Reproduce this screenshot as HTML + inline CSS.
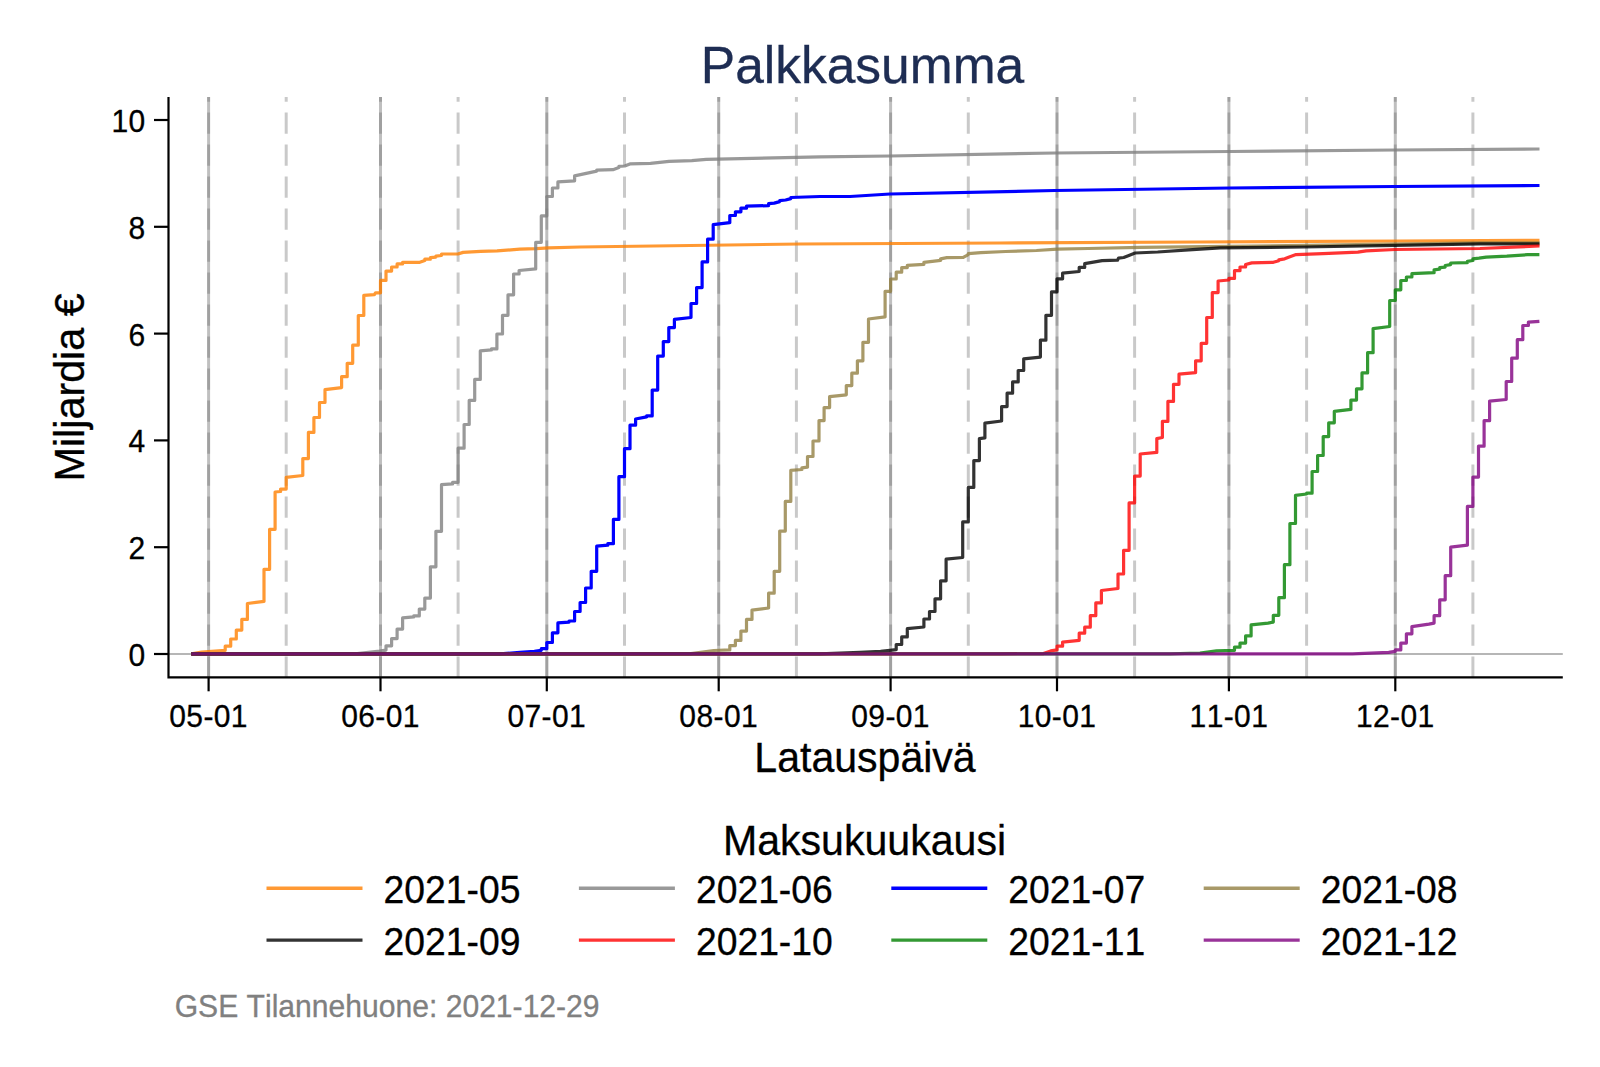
<!DOCTYPE html>
<html lang="fi"><head><meta charset="utf-8"><title>Palkkasumma</title>
<style>html,body{margin:0;padding:0;background:#fff}svg{display:block}text{font-family:"Liberation Sans",Arial,sans-serif;font-kerning:none}</style></head><body>
<svg width="1600" height="1067" viewBox="0 0 1600 1067">
<rect width="1600" height="1067" fill="#fff"/>
<text transform="translate(862.5,82.7) scale(1,1.02)" font-size="51.5" text-anchor="middle" fill="#1e2d53" stroke="#1e2d53" stroke-width="0.3">Palkkasumma</text>
<line x1="168" y1="654" x2="1562.8" y2="654" stroke="#b6b6b6" stroke-width="1.8"/>
<g stroke-width="3" fill="none" stroke="#000">
<line x1="208.6" y1="97" x2="208.6" y2="677" stroke-opacity="0.25"/>
<line x1="208.6" y1="97" x2="208.6" y2="677" stroke-opacity="0.16" stroke-dasharray="21.3 10.7" stroke-dashoffset="16.5"/>
<line x1="380.5" y1="97" x2="380.5" y2="677" stroke-opacity="0.25"/>
<line x1="380.5" y1="97" x2="380.5" y2="677" stroke-opacity="0.16" stroke-dasharray="21.3 10.7" stroke-dashoffset="16.5"/>
<line x1="546.8" y1="97" x2="546.8" y2="677" stroke-opacity="0.25"/>
<line x1="546.8" y1="97" x2="546.8" y2="677" stroke-opacity="0.16" stroke-dasharray="21.3 10.7" stroke-dashoffset="16.5"/>
<line x1="718.7" y1="97" x2="718.7" y2="677" stroke-opacity="0.25"/>
<line x1="718.7" y1="97" x2="718.7" y2="677" stroke-opacity="0.16" stroke-dasharray="21.3 10.7" stroke-dashoffset="16.5"/>
<line x1="890.6" y1="97" x2="890.6" y2="677" stroke-opacity="0.25"/>
<line x1="890.6" y1="97" x2="890.6" y2="677" stroke-opacity="0.16" stroke-dasharray="21.3 10.7" stroke-dashoffset="16.5"/>
<line x1="1057.0" y1="97" x2="1057.0" y2="677" stroke-opacity="0.25"/>
<line x1="1057.0" y1="97" x2="1057.0" y2="677" stroke-opacity="0.16" stroke-dasharray="21.3 10.7" stroke-dashoffset="16.5"/>
<line x1="1228.9" y1="97" x2="1228.9" y2="677" stroke-opacity="0.25"/>
<line x1="1228.9" y1="97" x2="1228.9" y2="677" stroke-opacity="0.16" stroke-dasharray="21.3 10.7" stroke-dashoffset="16.5"/>
<line x1="1395.3" y1="97" x2="1395.3" y2="677" stroke-opacity="0.25"/>
<line x1="1395.3" y1="97" x2="1395.3" y2="677" stroke-opacity="0.16" stroke-dasharray="21.3 10.7" stroke-dashoffset="16.5"/>
<line x1="286.2" y1="97" x2="286.2" y2="677" stroke-opacity="0.21" stroke-dasharray="21.3 10.7" stroke-dashoffset="16.5"/>
<line x1="458.1" y1="97" x2="458.1" y2="677" stroke-opacity="0.21" stroke-dasharray="21.3 10.7" stroke-dashoffset="16.5"/>
<line x1="624.5" y1="97" x2="624.5" y2="677" stroke-opacity="0.21" stroke-dasharray="21.3 10.7" stroke-dashoffset="16.5"/>
<line x1="796.4" y1="97" x2="796.4" y2="677" stroke-opacity="0.21" stroke-dasharray="21.3 10.7" stroke-dashoffset="16.5"/>
<line x1="968.3" y1="97" x2="968.3" y2="677" stroke-opacity="0.21" stroke-dasharray="21.3 10.7" stroke-dashoffset="16.5"/>
<line x1="1134.6" y1="97" x2="1134.6" y2="677" stroke-opacity="0.21" stroke-dasharray="21.3 10.7" stroke-dashoffset="16.5"/>
<line x1="1306.6" y1="97" x2="1306.6" y2="677" stroke-opacity="0.21" stroke-dasharray="21.3 10.7" stroke-dashoffset="16.5"/>
<line x1="1472.9" y1="97" x2="1472.9" y2="677" stroke-opacity="0.21" stroke-dasharray="21.3 10.7" stroke-dashoffset="16.5"/>
</g>
<g fill="none" stroke-width="3.2" stroke-linejoin="round" stroke-linecap="butt">
<path d="M191.3,653.8 L201.6,652 L225.2,650.3 L225.2,646.2 L230.7,646.2 L230.7,639 L236.3,639 L236.3,630.1 L241.8,630.1 L241.8,619.4 L247.4,619.4 L247.4,603.5 L264,601.4 L264,569.3 L269.6,569.3 L269.6,529.3 L275.1,529.3 L275.1,492 L280.6,491.5 L280.6,489.1 L286.2,489.1 L286.2,477.3 L302.8,475.5 L302.8,458.6 L308.4,458.6 L308.4,432.4 L313.9,432.4 L313.9,417.5 L319.5,417.5 L319.5,402.5 L325,402.5 L325,389.7 L341.6,387.6 L341.6,376.7 L347.2,376.7 L347.2,363.3 L352.7,363.3 L352.7,345.2 L358.3,345.2 L358.3,315.5 L363.8,315.5 L363.8,295.3 L374.4,294.6 L375.5,292.8 L380.5,292.8 L380.5,280.4 L386,280.4 L386,271.1 L391.6,271.1 L391.6,267 L397.1,267 L397.1,263.9 L402.6,263.9 L402.6,262.3 L419.8,262.3 L424.8,260.6 L424.8,259.2 L430.4,259.2 L430.4,257.7 L435.9,257.1 L435.9,256.1 L441.5,255.5 L441.5,254 L457.9,254 L463.1,252.4 L480.6,251.3 L497.1,250.9 L519.8,249.1 L536.3,248.7 L548.7,247.8 L580,247 L800,244 L1000,243 L1200,242 L1400,241 L1539.5,240.3" stroke="#ff7f00" stroke-opacity="0.8"/>
<path d="M191.3,653.8 L340,653.8 L357.3,653.6 L379.6,651.1 L386,650.1 L386,645.8 L391.6,645.8 L391.6,638.6 L397.1,638.6 L397.1,629.1 L402.6,629.1 L402.6,617.9 L413.7,616.9 L413.7,615.9 L419.3,615.9 L419.3,609.1 L424.8,609.1 L424.8,598.1 L430.4,598.1 L430.4,566.8 L435.9,566.8 L435.9,531.3 L441.5,531.3 L441.5,484.7 L452.6,483.9 L452.6,482.3 L458.1,482.3 L458.1,448.2 L464.1,448.2 L464.1,424.5 L469.2,424.5 L469.2,400.4 L474.7,400.4 L474.7,379.4 L480.3,379.4 L480.3,350.9 L491.4,349.9 L491.4,348.9 L496.9,348.9 L496.9,334 L502.5,334 L502.5,315.3 L508,315.3 L508,294.8 L513.6,294.8 L513.6,274 L519.1,274 L519.1,270.5 L535.7,268.9 L535.7,242.3 L541.3,242.3 L541.3,215.9 L546.8,215.9 L546.8,196.5 L552.4,196.5 L552.4,188 L557.9,188 L557.9,181.9 L574.6,180.8 L574.6,175.9 L596.7,171.1 L596.7,170.1 L613,169.7 L618.9,167.6 L618.9,166.4 L624.7,166 L629.9,163.9 L650.5,163.3 L669.1,161.4 L691.8,160.6 L706.2,159.4 L820,156.9 L890,156 L1055,153 L1230,151.5 L1395,150 L1539.5,149" stroke="#808080" stroke-opacity="0.8"/>
<path d="M191.3,653.8 L500,653.8 L520,652.4 L534.4,651.3 L541.3,650.3 L541.3,648.7 L546.8,648.7 L546.8,642.5 L552.4,642.5 L552.4,632.8 L557.9,632.8 L557.9,622.9 L569,622.1 L569,621 L574.6,621 L574.6,611.5 L580.1,611.5 L580.1,602.5 L585.6,602.5 L585.6,588 L591.2,588 L591.2,571.3 L596.7,571.3 L596.7,546.2 L607.8,545.2 L607.8,543.7 L613.4,543.7 L613.4,519.4 L618.9,519.4 L618.9,476.7 L624.5,476.7 L624.5,448.7 L630,448.7 L630,425.2 L635.6,425.2 L635.6,419 L646.6,416.9 L646.6,415.9 L652.2,415.9 L652.2,390.1 L657.7,390.1 L657.7,356.1 L663.3,356.1 L663.3,341.6 L668.8,341.6 L668.8,327.6 L674.4,327.6 L674.4,319.4 L691,317.5 L691,303.5 L696.6,303.5 L696.6,287.6 L702.1,287.6 L702.1,261.9 L707.6,261.9 L707.6,239.2 L713.2,239.2 L713.2,225.2 L713.2,224.7 L729.8,222.7 L729.8,215.5 L735.4,215.5 L735.4,211.8 L740.9,211.8 L740.9,208.2 L746.5,208.2 L746.5,206.2 L768.6,205.6 L768.6,203.7 L774.2,203.1 L779.7,201.6 L779.7,200.6 L785.6,200 L790.8,198.6 L790.8,197.5 L820,196.5 L850,196.5 L890,194 L1055,190.5 L1230,188 L1395,186.5 L1539.5,185.5" stroke="#0000ff"/>
<path d="M191.3,653.8 L660,653.8 L691.1,653.6 L713.8,650.5 L729.8,649.9 L729.8,645.6 L735.4,645.6 L735.4,640.4 L740.9,640.4 L740.9,631.1 L746.5,631.1 L746.5,619.4 L752,619.4 L752,610.1 L768.6,608 L768.6,593.2 L774.2,593.2 L774.2,571.3 L779.7,571.3 L779.7,531.1 L785.3,531.1 L785.3,501.4 L790.8,501.4 L790.8,470.3 L801.9,469.5 L801.9,467.8 L807.5,467.2 L807.5,456.5 L813,456.5 L813,441 L819,441 L819,420.6 L824.1,420.6 L824.1,407.6 L829.6,407.6 L829.6,396.7 L846.3,394.8 L846.3,385.6 L851.8,385.6 L851.8,373.2 L857.4,373.2 L857.4,360.8 L862.9,360.8 L862.9,342.3 L868.5,342.3 L868.5,319 L885.1,316.9 L885.1,291.3 L890.6,291.3 L890.6,279 L896.2,279 L896.2,272.2 L901.7,272.2 L901.7,267.6 L907.3,267.6 L907.3,265.4 L923.9,264.3 L923.9,262.3 L940.6,260.4 L940.6,258.8 L946.8,257.7 L963.3,257.3 L968.3,254.6 L968.3,253.6 L980.8,252.6 L1005.6,251.5 L1036.5,250.5 L1057.1,249.1 L1088,248.5 L1140,247.4 L1228,246.4 L1304.3,245.4 L1480,242.9 L1539.5,242.9" stroke="#928042" stroke-opacity="0.8"/>
<path d="M191.3,653.8 L820,653.8 L860,652.4 L880.6,651.3 L889.9,650.3 L896.2,649.7 L896.2,644.5 L901.7,644.5 L901.7,636.9 L907.3,636.9 L907.3,628.7 L923.9,627 L923.9,619 L929.5,619 L929.5,611.5 L935,611.5 L935,598.8 L940.6,598.8 L940.6,580.8 L946.1,580.8 L946.1,559.2 L962.7,557.5 L962.7,521.9 L968.3,521.9 L968.3,487.4 L973.8,487.4 L973.8,460.6 L979.4,460.6 L979.4,438.6 L984.9,437.9 L984.9,423.1 L1001.6,421 L1001.6,406.6 L1007.1,406.6 L1007.1,393.2 L1012.6,393.2 L1012.6,381.9 L1018.2,381.9 L1018.2,370.5 L1023.7,370.5 L1023.7,358.8 L1040.4,357.1 L1040.4,340.2 L1045.9,340.2 L1045.9,315.3 L1051.5,315.3 L1051.5,291.8 L1057,291.8 L1057,278.8 L1062.6,278.8 L1062.6,273.2 L1079.2,271.5 L1079.2,267.4 L1084.7,267.4 L1084.7,263.7 L1102.1,260.6 L1117.5,260.2 L1118.6,258.1 L1123.7,257.5 L1128.9,255.5 L1135.1,253 L1157.7,252 L1188.7,249.9 L1220,247.8 L1304.3,247 L1395.1,245.4 L1480,243.9 L1539.5,243.9" stroke="#000000" stroke-opacity="0.8"/>
<path d="M191.3,653.8 L1000,653.8 L1043.5,653.6 L1050.7,650.9 L1057,649.9 L1057,646.2 L1062.6,646.2 L1062.6,642.1 L1079.2,640.4 L1079.2,633.2 L1084.7,633.2 L1084.7,627.2 L1090.3,627.2 L1090.3,615.7 L1095.8,615.7 L1095.8,602.9 L1101.4,602.9 L1101.4,590.5 L1118,588.5 L1118,574 L1123.6,574 L1123.6,550.3 L1129.1,550.3 L1129.1,502.9 L1134.6,502.9 L1134.6,476.1 L1140.2,476.1 L1140.2,454 L1156.8,452.4 L1156.8,438.6 L1162.4,437.5 L1162.4,421.4 L1167.9,421.4 L1167.9,401.4 L1173.5,401.4 L1173.5,384.3 L1179,384.3 L1179,374.2 L1195.6,372.6 L1195.6,360.8 L1201.2,360.8 L1201.2,343.3 L1206.7,343.3 L1206.7,317.5 L1212.3,317.5 L1212.3,292.6 L1218.1,292.6 L1218.1,292.6 L1218.1,292.6 L1218.1,292.6 L1218.1,281 L1228.9,280 L1228.9,278.4 L1234.5,278.4 L1234.5,270.7 L1240,270.7 L1240,267 L1245.6,267 L1245.6,264.5 L1251.8,262.9 L1273.4,262.3 L1278.8,260.8 L1278.8,259.8 L1284.7,258.8 L1289.9,256.7 L1296.1,254.6 L1322.9,253.6 L1357.9,252.2 L1366.2,250.9 L1395.1,249.5 L1480,248.5 L1539.5,246" stroke="#ff0000" stroke-opacity="0.8"/>
<path d="M191.3,653.8 L1170,653.8 L1200,653 L1216.5,650.9 L1234.5,650.3 L1234.5,647.2 L1240,647.2 L1240,643.1 L1245.6,643.1 L1245.6,635.9 L1251.1,635.9 L1251.1,624.9 L1268,623.1 L1273.3,622.1 L1273.3,615.3 L1278.8,615.3 L1278.8,597.7 L1284.4,597.7 L1284.4,564.7 L1289.9,564.7 L1289.9,523.5 L1295.5,523.5 L1295.5,495.3 L1306.6,494 L1306.6,493.2 L1312.1,493.2 L1312.1,471.5 L1317.6,471.5 L1317.6,455.5 L1323.2,455.5 L1323.2,436.6 L1328.7,436.6 L1328.7,422.8 L1334.3,422.8 L1334.3,411.4 L1350.9,409.4 L1350.9,400.1 L1356.5,400.1 L1356.5,388.8 L1362,388.8 L1362,372.9 L1367.6,372.9 L1367.6,352.7 L1373.1,352.7 L1373.1,328.6 L1389.7,326.5 L1389.7,300.5 L1395.3,300.5 L1395.3,289.8 L1400.8,289.8 L1400.8,280.5 L1406.4,280.5 L1406.4,277 L1411.9,277 L1411.9,273.7 L1434.1,272.7 L1434.1,269.8 L1439.7,269.2 L1439.7,267.7 L1445.2,267.1 L1445.2,265.5 L1450.7,264.6 L1450.7,263 L1467.4,262.6 L1467.4,261.3 L1472.9,260.5 L1472.9,258.9 L1479,258.2 L1486.2,257.2 L1506.8,256.2 L1527.4,254.7 L1539.4,254.7" stroke="#008000" stroke-opacity="0.8"/>
<path d="M191.3,653.8 L1340,653.8 L1352.6,653.8 L1388.7,652.4 L1395.3,651.3 L1395.3,649.9 L1400.8,649.9 L1400.8,643.1 L1406.4,643.1 L1406.4,633.8 L1411.9,633.8 L1411.9,626.6 L1428.9,624.1 L1434.1,623.1 L1434.1,615.7 L1439.7,615.7 L1439.7,599.8 L1445.2,599.8 L1445.2,575.7 L1450.7,575.7 L1450.7,547.2 L1467.4,545.2 L1467.4,506.4 L1472.9,506.4 L1472.9,477.1 L1478.5,477.1 L1478.5,446.2 L1484.1,446.2 L1484.1,446.2 L1484.1,420.7 L1489.6,420.7 L1489.6,401.1 L1506.2,399.5 L1506.2,381.5 L1511.7,381.5 L1511.7,358.2 L1517.3,358.2 L1517.3,339.7 L1522.8,339.7 L1522.8,325.5 L1528.4,325.5 L1528.4,322.2 L1539.4,321.3" stroke="#800080" stroke-opacity="0.8"/>
</g>
<g stroke="#000" stroke-width="2.2" fill="none">
<path d="M168.5,97 V677.3 H1562.8"/>
<line x1="154" y1="654" x2="168" y2="654"/>
<line x1="154" y1="547.2" x2="168" y2="547.2"/>
<line x1="154" y1="440.4" x2="168" y2="440.4"/>
<line x1="154" y1="333.6" x2="168" y2="333.6"/>
<line x1="154" y1="226.8" x2="168" y2="226.8"/>
<line x1="154" y1="120" x2="168" y2="120"/>
<line x1="208.6" y1="677.3" x2="208.6" y2="691.3"/>
<line x1="380.5" y1="677.3" x2="380.5" y2="691.3"/>
<line x1="546.8" y1="677.3" x2="546.8" y2="691.3"/>
<line x1="718.7" y1="677.3" x2="718.7" y2="691.3"/>
<line x1="890.6" y1="677.3" x2="890.6" y2="691.3"/>
<line x1="1057.0" y1="677.3" x2="1057.0" y2="691.3"/>
<line x1="1228.9" y1="677.3" x2="1228.9" y2="691.3"/>
<line x1="1395.3" y1="677.3" x2="1395.3" y2="691.3"/>
</g>
<text transform="translate(145.6,666) scale(1,1.04)" font-size="30" text-anchor="end" stroke="#000" stroke-width="0.3" letter-spacing="0.4">0</text>
<text transform="translate(145.6,559.2) scale(1,1.04)" font-size="30" text-anchor="end" stroke="#000" stroke-width="0.3" letter-spacing="0.4">2</text>
<text transform="translate(145.6,452.4) scale(1,1.04)" font-size="30" text-anchor="end" stroke="#000" stroke-width="0.3" letter-spacing="0.4">4</text>
<text transform="translate(145.6,345.6) scale(1,1.04)" font-size="30" text-anchor="end" stroke="#000" stroke-width="0.3" letter-spacing="0.4">6</text>
<text transform="translate(145.6,238.8) scale(1,1.04)" font-size="30" text-anchor="end" stroke="#000" stroke-width="0.3" letter-spacing="0.4">8</text>
<text transform="translate(145.6,132) scale(1,1.04)" font-size="30" text-anchor="end" stroke="#000" stroke-width="0.3" letter-spacing="0.4">10</text>
<text transform="translate(208.6,727.3) scale(1,1.04)" font-size="30" text-anchor="middle" stroke="#000" stroke-width="0.3" letter-spacing="0.4">05-01</text>
<text transform="translate(380.5,727.3) scale(1,1.04)" font-size="30" text-anchor="middle" stroke="#000" stroke-width="0.3" letter-spacing="0.4">06-01</text>
<text transform="translate(546.8,727.3) scale(1,1.04)" font-size="30" text-anchor="middle" stroke="#000" stroke-width="0.3" letter-spacing="0.4">07-01</text>
<text transform="translate(718.7,727.3) scale(1,1.04)" font-size="30" text-anchor="middle" stroke="#000" stroke-width="0.3" letter-spacing="0.4">08-01</text>
<text transform="translate(890.6,727.3) scale(1,1.04)" font-size="30" text-anchor="middle" stroke="#000" stroke-width="0.3" letter-spacing="0.4">09-01</text>
<text transform="translate(1057,727.3) scale(1,1.04)" font-size="30" text-anchor="middle" stroke="#000" stroke-width="0.3" letter-spacing="0.4">10-01</text>
<text transform="translate(1228.9,727.3) scale(1,1.04)" font-size="30" text-anchor="middle" stroke="#000" stroke-width="0.3" letter-spacing="0.4">11-01</text>
<text transform="translate(1395.3,727.3) scale(1,1.04)" font-size="30" text-anchor="middle" stroke="#000" stroke-width="0.3" letter-spacing="0.4">12-01</text>
<text transform="translate(865,771.5) scale(1,1.02)" font-size="41.05" text-anchor="middle" stroke="#000" stroke-width="0.3">Latauspäivä</text>
<text transform="translate(84.3,387.4) rotate(-90) scale(1,1.02)" font-size="41.3" text-anchor="middle" stroke="#000" stroke-width="0.3">Miljardia €</text>
<text transform="translate(864.5,855) scale(1,1.02)" font-size="41.1" text-anchor="middle" stroke="#000" stroke-width="0.3">Maksukuukausi</text>
<line x1="266.5" y1="888.3" x2="362.5" y2="888.3" stroke="#ff7f00" stroke-opacity="0.8" stroke-width="3.4"/>
<text transform="translate(383.5,902.7) scale(1,1.03)" font-size="37.3" stroke="#000" stroke-width="0.3">2021-05</text>
<line x1="578.9" y1="888.3" x2="674.9" y2="888.3" stroke="#808080" stroke-opacity="0.8" stroke-width="3.4"/>
<text transform="translate(695.9,902.7) scale(1,1.03)" font-size="37.3" stroke="#000" stroke-width="0.3">2021-06</text>
<line x1="891.3" y1="888.3" x2="987.3" y2="888.3" stroke="#0000ff" stroke-width="3.4"/>
<text transform="translate(1008.3,902.7) scale(1,1.03)" font-size="37.3" stroke="#000" stroke-width="0.3">2021-07</text>
<line x1="1203.7" y1="888.3" x2="1299.7" y2="888.3" stroke="#928042" stroke-opacity="0.8" stroke-width="3.4"/>
<text transform="translate(1320.7,902.7) scale(1,1.03)" font-size="37.3" stroke="#000" stroke-width="0.3">2021-08</text>
<line x1="266.5" y1="940.1" x2="362.5" y2="940.1" stroke="#000000" stroke-opacity="0.8" stroke-width="3.4"/>
<text transform="translate(383.5,954.6) scale(1,1.03)" font-size="37.3" stroke="#000" stroke-width="0.3">2021-09</text>
<line x1="578.9" y1="940.1" x2="674.9" y2="940.1" stroke="#ff0000" stroke-opacity="0.8" stroke-width="3.4"/>
<text transform="translate(695.9,954.6) scale(1,1.03)" font-size="37.3" stroke="#000" stroke-width="0.3">2021-10</text>
<line x1="891.3" y1="940.1" x2="987.3" y2="940.1" stroke="#008000" stroke-opacity="0.8" stroke-width="3.4"/>
<text transform="translate(1008.3,954.6) scale(1,1.03)" font-size="37.3" stroke="#000" stroke-width="0.3">2021-11</text>
<line x1="1203.7" y1="940.1" x2="1299.7" y2="940.1" stroke="#800080" stroke-opacity="0.8" stroke-width="3.4"/>
<text transform="translate(1320.7,954.6) scale(1,1.03)" font-size="37.3" stroke="#000" stroke-width="0.3">2021-12</text>
<text transform="translate(174.7,1016.6) scale(1,1.02)" font-size="30.1" fill="#808080" stroke="#808080" stroke-width="0.3">GSE Tilannehuone: 2021-12-29</text>
</svg></body></html>
